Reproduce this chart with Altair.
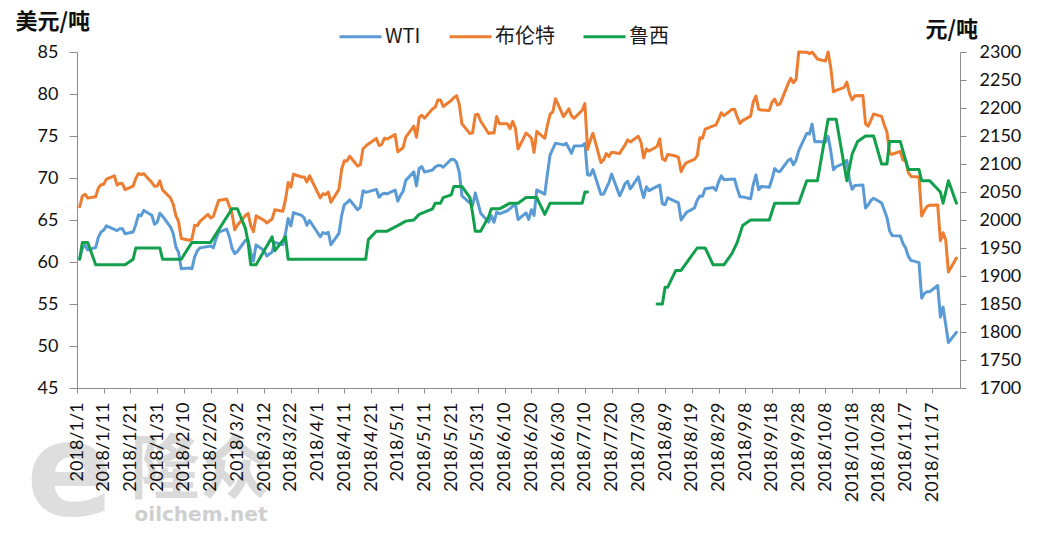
import altair as alt
import pandas as pd

# ---------------- data ----------------
wti_dates = ["01-02","01-03","01-04","01-05","01-08","01-09","01-10","01-11","01-12","01-16","01-17","01-18","01-19","01-22","01-23","01-24","01-25","01-26","01-29","01-30","01-31",
             "02-01","02-02","02-05","02-06","02-07","02-08","02-09","02-12","02-13","02-14","02-15","02-16","02-20","02-21","02-22","02-23","02-26","02-27","02-28",
             "03-01","03-02","03-05","03-06","03-07","03-08","03-09","03-12","03-13","03-14","03-15","03-16","03-19","03-20","03-21","03-22","03-23","03-26","03-27","03-28","03-29",
             "04-02","04-03","04-04","04-05","04-06","04-09","04-10","04-11","04-12","04-13","04-16","04-17","04-18","04-19","04-20","04-23","04-24","04-25","04-26","04-27","04-30",
             "05-01","05-02","05-03","05-04","05-07","05-08","05-09","05-10","05-11","05-14","05-15","05-16","05-17","05-18","05-21","05-22","05-23","05-24","05-25","05-29","05-30","05-31",
             "06-01","06-04","06-05","06-06","06-07","06-08","06-11","06-12","06-13","06-14","06-15","06-18","06-19","06-20","06-21","06-22","06-25","06-26","06-27","06-28","06-29",
             "07-02","07-03","07-05","07-06","07-09","07-10","07-11","07-12","07-13","07-16","07-17","07-18","07-19","07-20","07-23","07-24","07-25","07-26","07-27","07-30","07-31",
             "08-01","08-02","08-03","08-06","08-07","08-08","08-09","08-10","08-13","08-14","08-15","08-16","08-17","08-20","08-21","08-22","08-23","08-24","08-27","08-28","08-29","08-30","08-31",
             "09-04","09-05","09-06","09-07","09-10","09-11","09-12","09-13","09-14","09-17","09-18","09-19","09-20","09-21","09-24","09-25","09-26","09-27","09-28",
             "10-01","10-02","10-03","10-04","10-05","10-08","10-09","10-10","10-11","10-12","10-15","10-16","10-17","10-18","10-19","10-22","10-23","10-24","10-25","10-26","10-29","10-30","10-31",
             "11-01","11-02","11-05","11-06","11-07","11-08","11-09","11-12","11-13","11-14","11-15","11-16","11-19","11-20","11-21","11-23","11-26"]
wti_values = [60.37,61.63,62.01,61.44,61.73,62.96,63.57,63.80,64.30,63.73,63.97,63.95,63.37,63.57,64.47,65.61,65.51,66.14,65.56,64.50,64.73,
              65.80,65.45,64.15,63.39,61.79,61.15,59.20,59.29,59.19,60.60,61.34,61.68,61.90,61.68,62.77,63.55,63.91,63.01,61.64,
              60.99,61.25,62.57,62.60,61.15,60.12,62.04,61.36,60.71,60.96,61.19,62.34,62.06,63.40,65.17,64.30,65.88,65.55,65.25,64.38,64.94,
              63.01,63.51,63.37,63.54,62.06,63.42,65.51,66.82,67.07,67.39,66.22,66.52,68.47,68.29,68.38,68.64,67.70,68.05,68.19,68.10,68.57,
              67.25,67.93,68.43,69.72,70.73,69.06,71.14,71.36,70.70,70.96,71.31,71.49,71.49,71.28,72.24,72.20,71.84,70.71,67.88,66.73,68.21,67.04,
              65.81,64.75,65.52,64.73,65.95,65.74,66.10,66.36,66.64,66.89,65.06,65.85,65.07,66.22,65.54,68.58,68.08,70.53,72.76,73.45,74.15,
              73.94,74.14,72.94,73.80,73.85,74.11,70.38,70.33,71.01,68.06,68.08,68.76,69.46,70.46,67.89,68.52,69.30,69.61,68.69,70.13,68.76,
              67.66,68.96,68.49,69.01,69.17,66.94,66.81,67.63,67.20,67.04,65.01,65.46,65.91,66.43,67.35,67.86,67.83,68.72,68.87,68.53,69.51,70.25,69.80,
              69.87,68.72,67.77,67.75,67.54,69.25,70.37,68.59,68.99,68.91,69.85,71.12,70.80,70.78,72.08,72.28,71.57,72.12,73.25,
              75.30,75.23,76.41,74.33,74.34,74.29,74.96,73.17,70.97,71.34,71.78,72.10,69.75,68.65,69.12,69.17,66.43,66.82,67.33,67.59,67.04,66.18,65.31,
              63.69,63.14,63.10,62.21,61.67,60.67,60.19,59.93,55.69,56.25,56.46,56.46,57.20,53.43,54.63,50.42,51.63]

brent_dates = ["01-02","01-03","01-04","01-05","01-08","01-09","01-10","01-11","01-12","01-15","01-16","01-17","01-18","01-19","01-22","01-23","01-24","01-25","01-26","01-29","01-30","01-31",
               "02-01","02-02","02-05","02-06","02-07","02-08","02-09","02-12","02-13","02-14","02-15","02-16","02-19","02-20","02-21","02-22","02-23","02-26","02-27","02-28",
               "03-01","03-02","03-05","03-06","03-07","03-08","03-09","03-12","03-13","03-14","03-15","03-16","03-19","03-20","03-21","03-22","03-23","03-26","03-27","03-28","03-29",
               "04-02","04-03","04-04","04-05","04-06","04-09","04-10","04-11","04-12","04-13","04-16","04-17","04-18","04-19","04-20","04-23","04-24","04-25","04-26","04-27","04-30",
               "05-01","05-02","05-03","05-04","05-07","05-08","05-09","05-10","05-11","05-14","05-15","05-16","05-17","05-18","05-21","05-22","05-23","05-24","05-25","05-28","05-29","05-30","05-31",
               "06-01","06-04","06-05","06-06","06-07","06-08","06-11","06-12","06-13","06-14","06-15","06-18","06-19","06-20","06-21","06-22","06-25","06-26","06-27","06-28","06-29",
               "07-02","07-03","07-04","07-05","07-06","07-09","07-10","07-11","07-12","07-13","07-16","07-17","07-18","07-19","07-20","07-23","07-24","07-25","07-26","07-27","07-30","07-31",
               "08-01","08-02","08-03","08-06","08-07","08-08","08-09","08-10","08-13","08-14","08-15","08-16","08-17","08-20","08-21","08-22","08-23","08-24","08-27","08-28","08-29","08-30","08-31",
               "09-03","09-04","09-05","09-06","09-07","09-10","09-11","09-12","09-13","09-14","09-17","09-18","09-19","09-20","09-21","09-24","09-25","09-26","09-27","09-28",
               "10-01","10-02","10-03","10-04","10-05","10-08","10-09","10-10","10-11","10-12","10-15","10-16","10-17","10-18","10-19","10-22","10-23","10-24","10-25","10-26","10-29","10-30","10-31",
               "11-01","11-02","11-05","11-06","11-07","11-08","11-09","11-12","11-13","11-14","11-15","11-16","11-19","11-20","11-21","11-22","11-23","11-26"]
brent_values = [66.57,67.84,68.07,67.62,67.78,68.82,69.20,69.26,69.87,70.26,69.15,69.38,69.31,68.61,69.03,69.96,70.53,70.42,70.52,69.46,69.02,69.05,
                69.65,68.58,67.62,66.86,65.51,64.81,62.79,62.59,62.72,64.36,64.33,64.84,65.67,65.25,65.42,66.39,67.31,67.50,66.63,65.78,
                63.83,64.37,65.54,65.79,64.34,63.61,65.49,64.95,64.64,64.89,65.12,66.21,66.05,67.42,69.47,68.91,70.45,70.12,70.11,69.53,70.27,
                67.64,68.12,68.02,68.33,67.11,68.65,71.04,72.06,72.02,72.58,71.42,71.58,73.48,73.78,74.06,74.71,73.86,74.00,74.74,74.64,75.17,
                73.13,73.36,73.62,74.87,76.17,74.85,77.21,77.47,77.12,78.23,78.43,79.28,79.30,78.51,79.22,79.57,79.80,78.79,76.44,75.30,75.39,77.50,77.59,
                76.79,75.29,75.38,75.36,77.32,76.46,76.46,75.88,76.74,75.94,73.44,75.34,75.08,74.74,73.05,75.55,74.73,76.31,77.62,77.85,79.44,
                77.30,77.76,78.24,77.39,77.11,78.07,78.86,73.40,74.45,75.33,71.84,72.16,72.90,72.58,73.07,72.91,73.44,73.93,74.54,74.29,74.97,74.25,
                72.39,73.45,73.21,73.75,74.65,72.28,72.07,72.81,72.61,72.46,70.76,71.43,71.83,72.21,72.63,74.78,74.73,75.82,76.21,76.31,76.98,77.77,77.42,
                78.15,78.17,77.27,76.50,76.83,77.37,79.06,79.74,78.18,78.09,78.05,79.03,79.40,78.70,78.80,81.20,81.87,81.34,81.72,85.40,
                84.98,84.80,86.29,84.58,84.16,83.91,85.00,83.09,80.26,80.43,80.78,81.41,80.05,79.29,79.78,79.83,76.44,76.17,76.89,77.62,77.34,76.31,75.47,
                72.89,72.83,73.17,72.13,72.07,70.65,70.18,70.12,65.47,66.12,66.62,66.76,66.79,62.53,63.48,62.60,58.80,60.48]

luxi_dates = ["01-02","01-03","01-05","01-08","01-19","01-22","01-23","02-01","02-02","02-09","02-13","02-20","02-28",
              "03-02","03-05","03-06","03-07","03-09","03-15","03-16","03-20","03-21","04-19","04-20","04-23","04-27",
              "05-01","05-04","05-07","05-09","05-14","05-15","05-17","05-18","05-21","05-22","05-25","05-28","05-29","05-30",
              "06-01","06-04","06-05","06-08","06-12","06-15","06-18","06-22","06-25","06-27","07-09","07-10","07-11",
              "08-06","08-08","08-09","08-10","08-13","08-15","08-21","08-24","08-27","08-31",
              "09-03","09-05","09-07","09-10","09-17","09-19","09-28",
              "10-01","10-05","10-09","10-12","10-16","10-18","10-20","10-23","10-26","10-29","10-31",
              "11-01","11-05","11-08","11-12","11-13","11-16","11-20","11-21","11-23","11-26"]
luxi_values = [1930,1960,1960,1920,1920,1930,1950,1950,1930,1930,1960,1960,2020,
               2020,1985,1960,1920,1920,1970,1945,1970,1930,1930,1965,1980,1980,
               1990,1998,2000,2010,2020,2030,2030,2040,2045,2060,2060,2040,2012,1980,
               1980,2006,2020,2020,2030,2030,2040,2040,2010,2030,2030,2050,2050,
               1850,1850,1880,1880,1910,1910,1950,1950,1920,1920,
               1940,1960,1990,2000,2000,2030,2030,
               2070,2070,2180,2180,2070,2118,2140,2150,2150,2100,2100,
               2140,2140,2090,2090,2070,2070,2050,2030,2070,2030]
luxi_segment = [1] * 53 + [2] * 38

series_names = ["WTI", "布伦特", "鲁西"]
series_colors = ["#5B9BD5", "#ED7D31", "#12A04C"]
left_ticks = [45, 50, 55, 60, 65, 70, 75, 80, 85]
right_ticks = [1700, 1750, 1800, 1850, 1900, 1950, 2000, 2050, 2100, 2150, 2200, 2250, 2300]
x_tick_dates = ["2018-01-01","2018-01-11","2018-01-21","2018-01-31","2018-02-10","2018-02-20","2018-03-02",
                "2018-03-12","2018-03-22","2018-04-01","2018-04-11","2018-04-21","2018-05-01","2018-05-11",
                "2018-05-21","2018-05-31","2018-06-10","2018-06-20","2018-06-30","2018-07-10","2018-07-20",
                "2018-07-30","2018-08-09","2018-08-19","2018-08-29","2018-09-08","2018-09-18","2018-09-28",
                "2018-10-08","2018-10-18","2018-10-28","2018-11-07","2018-11-17"]
x_domain = ["2018-01-01 00:00", "2018-11-27 08:00"]

# ---------------- build tables ----------------
def ms(s):
    return int(pd.Timestamp(s, tz="UTC").timestamp() * 1000)

oil = pd.concat([
    pd.DataFrame({"date": ["2018-" + d for d in wti_dates], "value": wti_values, "series": "WTI"}),
    pd.DataFrame({"date": ["2018-" + d for d in brent_dates], "value": brent_values, "series": "布伦特"}),
], ignore_index=True)
luxi = pd.DataFrame({"date": ["2018-" + d for d in luxi_dates], "value": luxi_values,
                     "series": "鲁西", "seg": luxi_segment})

NUM_FONT = "Lato"
CJK_FONT = "Noto Sans CJK SC"
AXIS_GRAY = "#8c8c8c"

color = alt.Color("series:N",
                  scale=alt.Scale(domain=series_names, range=series_colors),
                  legend=alt.Legend(title=None, orient="none", direction="horizontal",
                                    legendX=261, legendY=-38, symbolType="stroke",
                                    symbolSize=1764, symbolStrokeWidth=3, labelFont=CJK_FONT,
                                    labelFontSize=20, labelColor="#1a1a1a", labelOffset=2,
                                    columnPadding=22, padding=0))

x_enc = alt.X("date:T",
              scale=alt.Scale(type="utc", domain=[ms(x_domain[0]), ms(x_domain[1])], nice=False),
              axis=alt.Axis(values=[ms(d) for d in x_tick_dates], format="%Y/%-m/%-d",
                            labelAngle=-90, labelFont=NUM_FONT, labelFontSize=18, labelColor="#111",
                            labelPadding=9, labelOverlap=False, labelFlush=False, labelBound=False,
                            tickSize=5, tickColor=AXIS_GRAY, domainColor=AXIS_GRAY, grid=False,
                            title=None, zindex=1))

oil_lines = alt.Chart(oil).mark_line(strokeWidth=3, strokeJoin="round", strokeCap="round").encode(
    x=x_enc,
    y=alt.Y("value:Q",
            scale=alt.Scale(domain=[45, 85], nice=False, zero=False, clamp=True),
            axis=alt.Axis(values=left_ticks, grid=False, labelFont=NUM_FONT, labelFontSize=18,
                          labelColor="#111", labelPadding=11, labelFlush=False, tickSize=8,
                          tickColor=AXIS_GRAY, domainColor=AXIS_GRAY,
                          title="美元/吨", titleAngle=0, titleAlign="left", titleBaseline="middle",
                          titleX=-62, titleY=-31, titleFont=CJK_FONT, titleFontSize=22,
                          titleFontWeight="bold", titleColor="#111")),
    color=color,
    detail="series:N",
)

luxi_line = alt.Chart(luxi).mark_line(strokeWidth=3, strokeJoin="round", strokeCap="round").encode(
    x=x_enc,
    y=alt.Y("value:Q",
            scale=alt.Scale(domain=[1700, 2300], nice=False, zero=False),
            axis=alt.Axis(orient="right", values=right_ticks, format="d", grid=False,
                          labelFont=NUM_FONT, labelFontSize=18, labelColor="#111", labelPadding=13,
                          labelFlush=False, tickSize=6, tickColor=AXIS_GRAY, domainColor=AXIS_GRAY,
                          title="元/吨", titleAngle=0, titleAlign="left", titleBaseline="middle",
                          titleX=-35, titleY=-23, titleFont=CJK_FONT, titleFontSize=22,
                          titleFontWeight="bold", titleColor="#111")),
    color=color,
    detail="seg:N",
)

# watermark (logo text), behind the axis labels
wm = pd.DataFrame({"k": [0]})
wm_e = alt.Chart(wm).mark_text(text="e", font="DejaVu Sans", fontSize=130, fontWeight="bold",
                               color="#dedede", align="center", baseline="alphabetic").encode(
    x=alt.value(-7), y=alt.value(463))
wm_cn = alt.Chart(wm).mark_text(text="隆众", font=CJK_FONT, fontSize=70, fontWeight="bold",
                                color="#dadada", align="center", baseline="middle").encode(
    x=alt.value(123), y=alt.value(420))
wm_net = alt.Chart(wm).mark_text(text="oilchem.net", font="DejaVu Sans", fontSize=20, fontWeight="bold",
                                 color="#cfcfcf", align="center", baseline="middle").encode(
    x=alt.value(124), y=alt.value(463))

chart = alt.layer(wm_e, wm_cn, wm_net, oil_lines, luxi_line).resolve_scale(
    y="independent"
).properties(
    width=883, height=336,
    autosize=alt.AutoSizeParams(type="none"),
    padding={"left": 69, "top": 44, "right": 73, "bottom": 138},
    background="white",
).configure_view(strokeWidth=0)

chart.save("out.html", embed_options={"renderer": "svg", "actions": False})
